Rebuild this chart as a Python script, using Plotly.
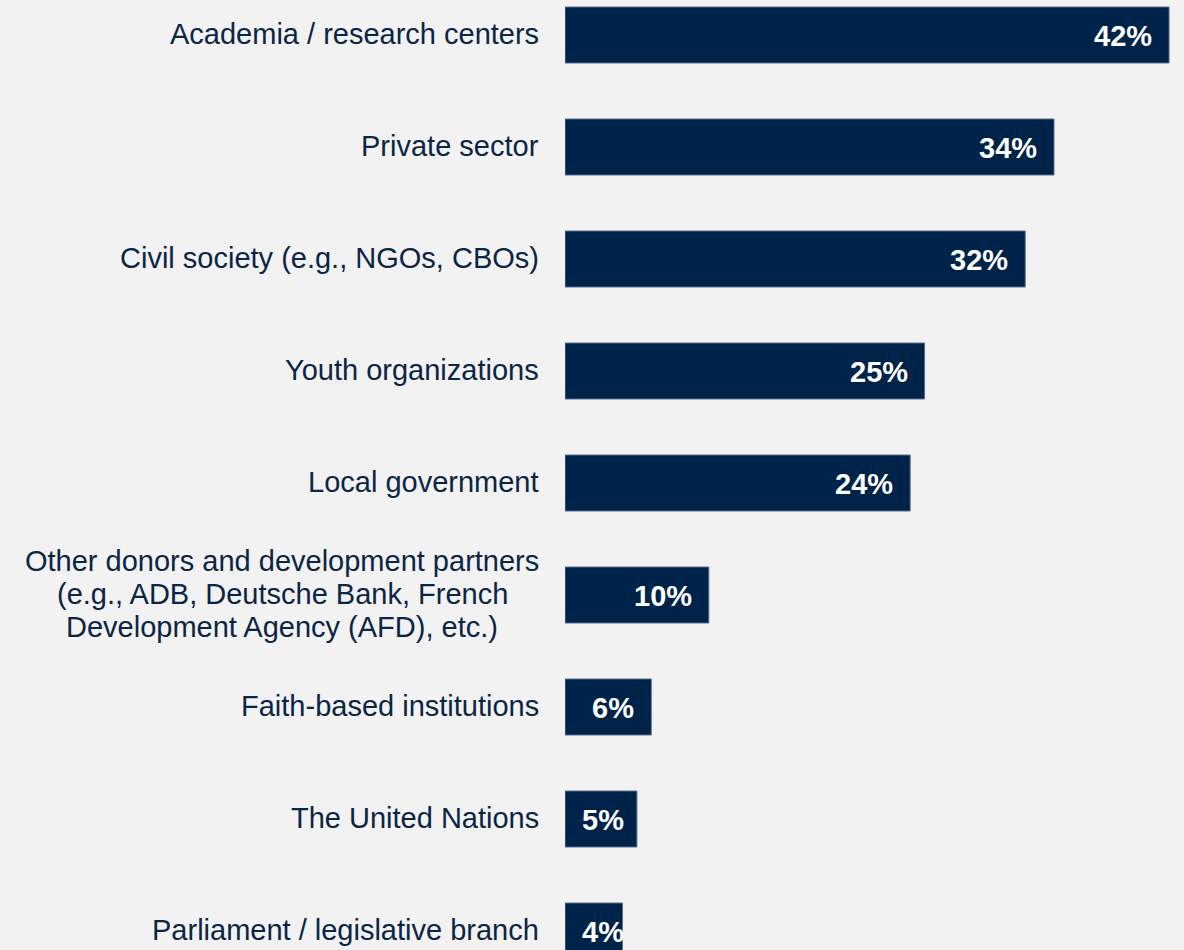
import plotly.graph_objects as go

categories = [
    "Academia / research centers",
    "Private sector",
    "Civil society (e.g., NGOs, CBOs)",
    "Youth organizations",
    "Local government",
    "Other donors and development partners<br>(e.g., ADB, Deutsche Bank, French<br>Development Agency (AFD), etc.)",
    "Faith-based institutions",
    "The United Nations",
    "Parliament / legislative branch",
]
values = [42, 34, 32, 25, 24, 10, 6, 5, 4]
value_labels = ["42%", "34%", "32%", "25%", "24%", "10%", "6%", "5%", "4%"]

BAR = "#00234A"
TEXT = "#0B2545"
BG = "#F2F2F2"
FONT = "Liberation Sans, Arial"
LINE_H = 33          # px between label lines
MULTI_CENTER_PX = -283  # centre of a wrapped label block, px from plot's left edge

idx = list(range(len(categories)))

fig = go.Figure(go.Bar(
    x=values, y=idx, orientation="h", width=0.5,
    marker=dict(color=BAR, line=dict(color="#5B6F8A", width=1)),
    hoverinfo="skip",
))

ann = []
for i, (c, v, t) in enumerate(zip(categories, values, value_labels)):
    lines = c.split("<br>")
    n = len(lines)
    for k, ln in enumerate(lines):
        a = dict(x=0, xref="paper", y=i, yref="y", text=ln, showarrow=False,
                 yanchor="middle", align="center",
                 yshift=((n - 1) / 2 - k) * LINE_H + 1,
                 font=dict(family=FONT, size=29, color=TEXT))
        if n == 1:
            a.update(xanchor="right", xshift=-24)
        else:
            a.update(xanchor="center", xshift=MULTI_CENTER_PX)
        ann.append(a)
    small = v <= 5
    ann.append(dict(x=0 if small else v, xref="x", y=i, yref="y", text="<b>%s</b>" % t,
                    showarrow=False, xanchor="left" if small else "right", yanchor="middle",
                    xshift=15 if small else -15, yshift=-1,
                    font=dict(family=FONT, size=29, color="white")))

fig.update_layout(
    width=1184, height=950,
    margin=dict(l=565, r=0, t=0, b=0),
    paper_bgcolor=BG, plot_bgcolor=BG,
    showlegend=False,
    xaxis=dict(range=[0, 43.04], visible=False, fixedrange=True),
    yaxis=dict(range=[8.1696, -0.3125], visible=False, fixedrange=True),
    annotations=ann,
)

fig.write_html("out.html", config={"displayModeBar": False},
               post_script="document.body.style.margin='0';document.body.style.background='#F2F2F2';document.body.style.overflow='hidden';")
